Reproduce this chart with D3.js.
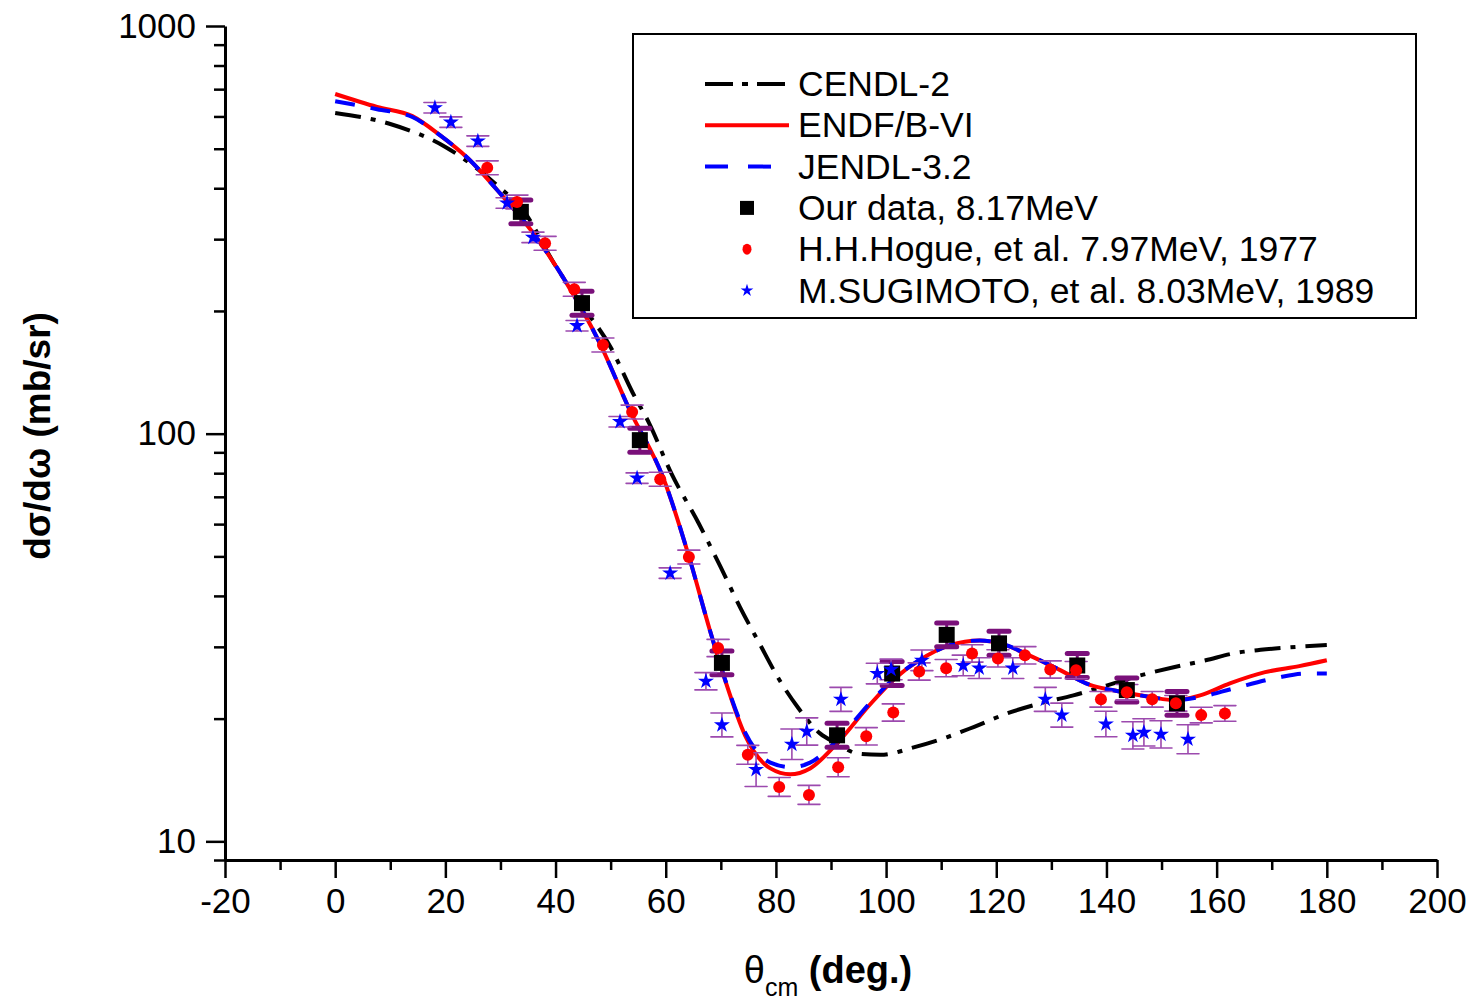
<!DOCTYPE html>
<html><head><meta charset="utf-8">
<script src="https://cdn.jsdelivr.net/npm/d3@7"></script>
<style>
html,body{margin:0;padding:0;background:#fff;}
svg{display:block;font-family:"Liberation Sans",Arial,sans-serif;}
</style></head>
<body><svg id="c" width="1473" height="1000"></svg>
<script>
// ---- data ----
const cendlAngle = [0,10,20,30,34,40,45,50,54,57,61,66,70,73.5,77,80.7,84,88,91,95,99,105,111,116,122,128,134,140,146,152,158,163,168,173,180];
const cendlValue = [612,575,505,400,355,258,205,163,126,106,80,60.2,47,37.5,30.6,24.8,21.3,18.4,17.4,16.4,16.3,17.0,18.0,19.1,20.6,21.8,22.8,24.1,25.5,26.7,27.8,28.9,29.5,29.9,30.3];

const endfAngle = [0,7.6,14,19,24,29.4,35.9,42,48,53.5,59.7,64.4,68,70.8,74.4,79,82.6,86.2,91.6,97,101.6,106,111.6,117,120.7,126,131.6,137,141,148,152.4,157,162.4,168.8,175,180];
const endfValue = [681,633,601,540,475,396,311,234,167,114,77,49,33,24.8,18.2,15.1,14.6,15.1,17.7,21.6,25.1,27.8,30.3,31.1,30.6,28.6,26.3,24.2,23.5,22.6,22.2,22.8,24.4,26.0,26.9,27.8];

const jendlAngle = [0,7.6,14,19,24,29.4,35.9,42,48,53.5,59.7,64.4,68,70.8,74.4,79,82.8,86.2,91.6,97,101.6,106,111.6,117,120.7,126,131.6,137,141,148,152.4,157,163,171,176,180];
const jendlValue = [654,625,598,540,475,396,311,234,167,114,77,49,33,24.9,18.5,15.6,15.2,15.6,18.0,21.8,25.2,27.8,30.3,31.1,30.6,28.6,26.3,24.2,23.5,22.6,22.2,22.6,23.7,25.2,25.8,25.8];

const ourAngle = [33.7,44.8,55.3,70.2,91.1,101.1,111,120.5,134.7,143.7,152.8];
const ourValue = [350,209,96.4,27.4,18.2,25.8,32.1,30.6,27.0,23.5,21.8];
const ourErrPct = [7,7,7,7,7,7,7,7,7,7,7];

const hogueAngle = [27.6,33.0,38.1,43.4,48.6,53.9,59.0,64.2,69.5,74.9,80.6,86.0,91.3,96.4,101.3,106.0,110.9,115.6,120.3,125.2,129.8,134.5,139.0,143.7,148.3,152.6,157.2,161.5];
const hogueValue = [449,370,293,226,165,113,77.3,49.8,29.8,16.3,13.6,13.0,15.2,18.1,20.7,26.1,26.6,28.9,28.1,28.6,26.4,26.3,22.3,23.2,22.3,21.8,20.4,20.6];
const hogueErrPct = [4,4,4,4,4,4,4,4,5,5.5,5.5,5.5,5.5,5,5,5,5,5,5,5,5,5,4.5,4.5,4.5,4.5,4.5,4.5];

const sugiAngle = [18.1,21.0,25.9,31.2,35.9,43.9,51.7,54.8,60.8,67.3,70.2,76.4,82.9,85.6,91.8,98.4,100.9,106.5,114.0,116.9,123.0,128.9,131.9,139.9,144.8,146.8,149.9,154.8];
const sugiValue = [630,581,522,368,303,184,107,77.8,45.5,24.7,19.3,15.0,17.3,18.6,22.3,25.8,26.4,27.8,27.0,26.6,26.6,22.3,20.4,19.4,18.2,18.5,18.3,17.8];
const sugiErrPct = [3,3,3,3,3,3,3,3,3,5,7,10,9,8,7,6,6,6,6,6,6,7,7,7.5,8,8,8,8.5];

const xTicks = [-20,0,20,40,60,80,100,120,140,160,180,200];
const xMinor = [-10,10,30,50,70,90,110,130,150,170,190];
const yTicks = [10,100,1000];
const yMinor = [9,20,30,40,50,60,70,80,90,200,300,400,500,600,700,800,900];

const legendLabels = ["CENDL-2","ENDF/B-VI","JENDL-3.2","Our data, 8.17MeV","H.H.Hogue, et al. 7.97MeV, 1977","M.SUGIMOTO, et al. 8.03MeV, 1989"];

// ---- drawing ----
const svg = d3.select("#c");
const x = d3.scaleLinear().domain([-20,200]).range([225,1437]);
const y = d3.scaleLog().domain([9,1000]).range([860,26]);

const TICKFONT = 35;
const LEGFONT = 35.5;
const purple = "#7a107a";
const lightPurple = "#9c4aae";
const fmt = d => String(d);

// axes
const gx = svg.append("g").attr("transform","translate(0,860)")
  .call(d3.axisBottom(x).tickValues(xTicks).tickSize(18).tickSizeOuter(0).tickPadding(10).tickFormat(fmt));
gx.select(".domain").attr("stroke","#000").attr("stroke-width",3);
gx.selectAll(".tick line").attr("stroke","#000").attr("stroke-width",2.5);
gx.selectAll(".tick text").attr("font-size",TICKFONT).attr("fill","#000").attr("font-family","Liberation Sans, Arial, sans-serif");
svg.append("g").attr("transform","translate(0,860)")
  .call(d3.axisBottom(x).tickValues(xMinor).tickSize(10).tickSizeOuter(0).tickFormat(""))
  .call(g=>{g.select(".domain").remove(); g.selectAll(".tick line").attr("stroke","#000").attr("stroke-width",2.5);});

const gy = svg.append("g").attr("transform","translate(225,0)")
  .call(d3.axisLeft(y).tickValues(yTicks).tickSize(19).tickSizeOuter(0).tickPadding(10).tickFormat(fmt));
gy.select(".domain").attr("stroke","#000").attr("stroke-width",3);
gy.selectAll(".tick line").attr("stroke","#000").attr("stroke-width",2.5);
gy.selectAll(".tick text").attr("font-size",TICKFONT).attr("fill","#000").attr("font-family","Liberation Sans, Arial, sans-serif");
svg.append("g").attr("transform","translate(225,0)")
  .call(d3.axisLeft(y).tickValues(yMinor).tickSize(11).tickSizeOuter(0).tickFormat(""))
  .call(g=>{g.select(".domain").remove(); g.selectAll(".tick line").attr("stroke","#000").attr("stroke-width",2.5);});

// axis titles
svg.append("text").attr("transform","translate(50,436) rotate(-90)").attr("text-anchor","middle")
  .attr("font-size",37).attr("font-weight","bold").text("dσ/dω (mb/sr)");
const xt = svg.append("text").attr("x",828).attr("y",983).attr("text-anchor","middle").attr("font-size",38).attr("font-weight","bold");
xt.append("tspan").attr("font-weight","normal").text("θ");
xt.append("tspan").attr("font-size",25).attr("font-weight","normal").attr("dy",13).text("cm");
xt.append("tspan").attr("dy",-13).text(" (deg.)");

// curves
const line = d3.line().x(d=>x(d[0])).y(d=>y(d[1])).curve(d3.curveMonotoneX);
const zip = (a,b)=>a.map((v,i)=>[v,b[i]]);
svg.append("path").attr("d",line(zip(cendlAngle,cendlValue))).attr("fill","none")
  .attr("stroke","#000").attr("stroke-width",4).attr("stroke-dasharray","26,10,5,10");
svg.append("path").attr("d",line(zip(endfAngle,endfValue))).attr("fill","none")
  .attr("stroke","#ff0000").attr("stroke-width",4);
svg.append("path").attr("d",line(zip(jendlAngle,jendlValue))).attr("fill","none")
  .attr("stroke","#0000ff").attr("stroke-width",4).attr("stroke-dasharray","20,16");

// error bars
function errBars(ang, val, pct, color, w, capW, capSW){
  const g = svg.append("g");
  ang.forEach((a,i)=>{
    const hi = val[i]*(1+pct[i]/100), lo = val[i]/(1+pct[i]/100);
    const cx = x(a);
    g.append("line").attr("x1",cx).attr("x2",cx).attr("y1",y(hi)).attr("y2",y(lo)).attr("stroke",color).attr("stroke-width",w);
    [hi,lo].forEach(v=>g.append("line").attr("x1",cx-capW/2).attr("x2",cx+capW/2).attr("y1",y(v)).attr("y2",y(v))
      .attr("stroke",color).attr("stroke-width",capSW).attr("stroke-linecap","round"));
  });
}
errBars(ourAngle, ourValue, ourErrPct, purple, 3, 20, 5);
errBars(hogueAngle, hogueValue, hogueErrPct, lightPurple, 1.6, 22, 1.6);
errBars(sugiAngle, sugiValue, sugiErrPct, lightPurple, 1.6, 22, 1.6);

// markers
svg.append("g").selectAll("rect").data(zip(ourAngle,ourValue)).join("rect")
  .attr("x",d=>x(d[0])-8).attr("y",d=>y(d[1])-8).attr("width",16).attr("height",16).attr("fill","#000");
svg.append("g").selectAll("circle").data(zip(hogueAngle,hogueValue)).join("circle")
  .attr("cx",d=>x(d[0])).attr("cy",d=>y(d[1])).attr("r",6).attr("fill","#ff0000");
const star = d3.symbol().type(d3.symbolStar).size(80);
svg.append("g").selectAll("path").data(zip(sugiAngle,sugiValue)).join("path")
  .attr("transform",d=>`translate(${x(d[0])},${y(d[1])})`).attr("d",star()).attr("fill","#0000ff");

// legend
const lg = svg.append("g");
lg.append("rect").attr("x",633).attr("y",34).attr("width",783).attr("height",284)
  .attr("fill","#fff").attr("stroke","#000").attr("stroke-width",2);
const rowY = i => 84 + i*41.3;
lg.append("line").attr("x1",705).attr("x2",789).attr("y1",rowY(0)).attr("y2",rowY(0))
  .attr("stroke","#000").attr("stroke-width",4).attr("stroke-dasharray","28,9,6,9");
lg.append("line").attr("x1",705).attr("x2",789).attr("y1",rowY(1)).attr("y2",rowY(1))
  .attr("stroke","#ff0000").attr("stroke-width",4);
lg.append("line").attr("x1",705).attr("x2",789).attr("y1",rowY(2)).attr("y2",rowY(2))
  .attr("stroke","#0000ff").attr("stroke-width",4).attr("stroke-dasharray","23,20");
lg.append("rect").attr("x",740).attr("y",rowY(3)-7).attr("width",14).attr("height",14).attr("fill","#000");
lg.append("ellipse").attr("cx",747).attr("cy",rowY(4)).attr("rx",4.5).attr("ry",5.5).attr("fill","#ff0000");
lg.append("path").attr("transform",`translate(747,${rowY(5)})`).attr("d",d3.symbol().type(d3.symbolStar).size(50)()).attr("fill","#0000ff");
legendLabels.forEach((t,i)=>{
  lg.append("text").attr("x",798).attr("y",rowY(i)+12).attr("font-size",LEGFONT).attr("fill","#000").text(t);
});
</script></body></html>
